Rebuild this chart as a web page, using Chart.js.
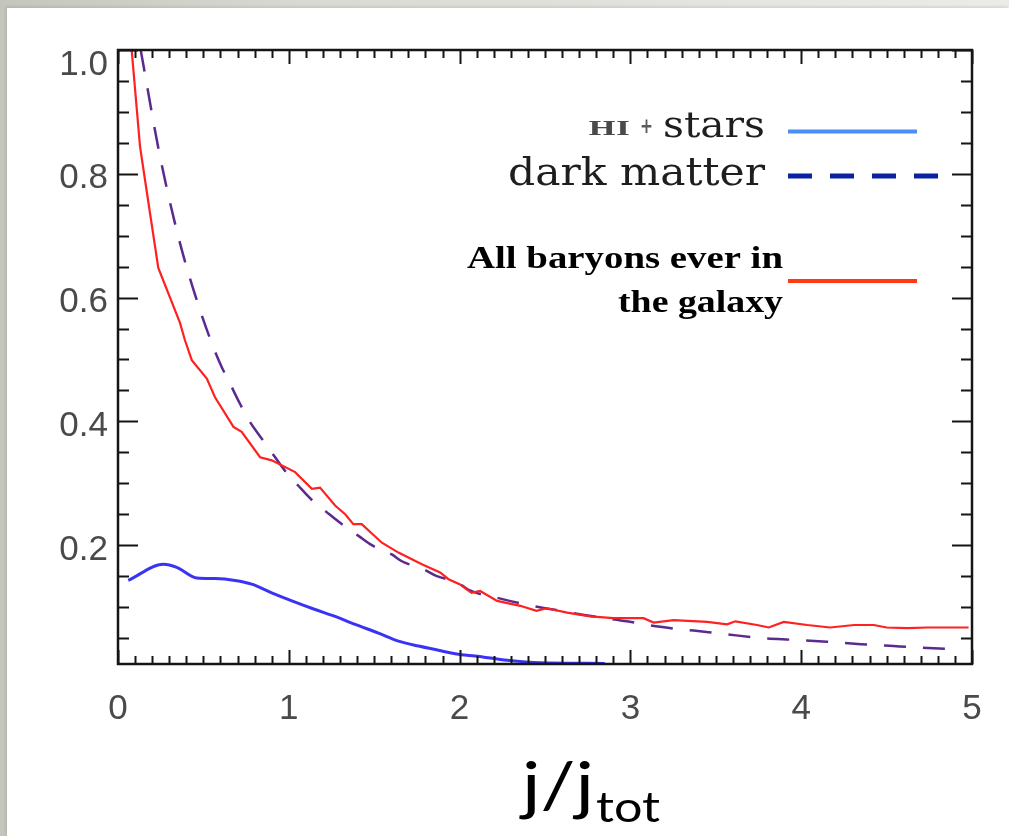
<!DOCTYPE html>
<html>
<head>
<meta charset="utf-8">
<script src="https://cdn.jsdelivr.net/npm/chart.js@4.4.1/dist/chart.umd.min.js"></script>
<style>
  html, body { margin: 0; padding: 0; width: 1009px; height: 836px; overflow: hidden; }
  body { background: linear-gradient(to right, #c4c5bc 0px, #d9d9d3 300px, #ebebe8 1009px); position: relative; }
  #panel { position: absolute; left: 7px; top: 8px; right: 0; bottom: 0; background: #ffffff;
           box-shadow: -1px -1px 3px rgba(0,0,0,0.12); }
  #c { position: absolute; left: 0; top: 0; }
</style>
</head>
<body>
<div id="panel"></div>
<canvas id="c" width="1009" height="836"></canvas>
<script>
// ---- data ----
const baryonX = [0.08,0.129,0.187,0.236,0.363,0.392,0.432,0.52,0.568,0.676,0.724,0.832,0.90,1.037,1.135,1.183,1.271,1.33,1.378,1.427,1.545,1.642,1.779,1.886,1.935,2.0,2.07,2.12,2.22,2.355,2.45,2.51,2.63,2.765,2.9,3.077,3.136,3.253,3.449,3.566,3.615,3.741,3.81,3.898,4.035,4.17,4.31,4.425,4.5,4.62,4.74,4.874,4.98];
const baryonY = [1.0,0.844,0.737,0.648,0.559,0.531,0.499,0.469,0.439,0.391,0.383,0.342,0.337,0.318,0.291,0.293,0.264,0.25,0.234,0.234,0.204,0.188,0.169,0.156,0.145,0.137,0.123,0.126,0.11,0.102,0.094,0.098,0.091,0.085,0.082,0.082,0.075,0.079,0.076,0.072,0.077,0.071,0.067,0.076,0.071,0.067,0.071,0.071,0.067,0.066,0.067,0.067,0.067];

const darkX = [0.133,0.246,0.363,0.48,0.558,0.607,0.656,0.715,0.773,0.842,0.92,0.978,1.056,1.135,1.223,1.31,1.408,1.486,1.603,1.662,1.789,1.867,1.994,2.05,2.22,2.39,2.59,2.78,2.98,3.175,3.37,3.566,3.76,3.956,4.15,4.35,4.54,4.74,4.9];
const darkY = [1.0,0.828,0.688,0.58,0.52,0.488,0.461,0.428,0.399,0.372,0.342,0.32,0.296,0.273,0.253,0.234,0.215,0.2,0.185,0.174,0.161,0.15,0.139,0.128,0.115,0.104,0.094,0.085,0.077,0.068,0.062,0.056,0.05,0.047,0.044,0.04,0.037,0.034,0.032];

const gasX = [0.06,0.266,0.344,0.461,0.568,0.685,0.783,0.9,1.018,1.154,1.271,1.388,1.525,1.642,1.76,1.896,2.01,2.09,2.28,2.47,2.85];
const gasY = [0.143,0.169,0.164,0.147,0.146,0.143,0.137,0.123,0.11,0.096,0.085,0.072,0.058,0.045,0.037,0.029,0.023,0.021,0.014,0.01,0.009];

const xTickValues = [0,1,2,3,4,5];
const xTickLabels = ['0','1','2','3','4','5'];
const yTickValues = [0.2,0.4,0.6,0.8,1.0];
const yTickLabels = ['0.2','0.4','0.6','0.8','1.0'];

const legendLabels = { hi: 'HI', plus: '+', stars: 'stars', dark: 'dark matter', bary1: 'All baryons ever in', bary2: 'the galaxy' };
const axisTitleMain = 'j/j';
const axisTitleSub = 'tot';

const toPts = (xs, ys) => xs.map((v, i) => ({ x: v, y: ys[i] }));

function drawFit(ctx, text, x, y, font, color, width, align) {
  ctx.save();
  ctx.font = font;
  ctx.fillStyle = color;
  ctx.textBaseline = 'alphabetic';
  ctx.textAlign = 'left';
  const w = ctx.measureText(text).width;
  const sx = width / w;
  const left = align === 'right' ? x - width : x;
  ctx.translate(left, y);
  ctx.scale(sx, 1);
  ctx.fillText(text, 0, 0);
  ctx.restore();
}

const framePlugin = {
  id: 'frame',
  afterDatasetsDraw(chart) {
    const { ctx, chartArea: { left, right, top, bottom }, scales: { x, y } } = chart;
    ctx.save();
    ctx.strokeStyle = '#151515';
    ctx.lineWidth = 2;
    ctx.lineCap = 'butt';
    // x ticks (bottom and top, pointing inward)
    for (let i = 0; i <= 50; i++) {
      const px = Math.round(x.getPixelForValue(i / 10)) + 0.5;
      const len = (i % 10 === 0) ? 14 : 8;
      ctx.beginPath();
      ctx.moveTo(px, bottom); ctx.lineTo(px, bottom - len);
      ctx.moveTo(px, top); ctx.lineTo(px, top + len);
      ctx.stroke();
    }
    // y ticks (left and right, pointing inward)
    for (let i = 1; i <= 20; i++) {
      const v = i * 0.05;
      const py = Math.round(y.getPixelForValue(v)) + 0.5;
      const len = (i % 4 === 0) ? 20 : 11;
      ctx.beginPath();
      ctx.moveTo(left, py); ctx.lineTo(left + len, py);
      ctx.moveTo(right, py); ctx.lineTo(right - len, py);
      ctx.stroke();
    }
    ctx.lineWidth = 2.5;
    ctx.strokeRect(left, top, right - left, bottom - top);

    // tick labels
    ctx.fillStyle = '#4a4a4a';
    ctx.font = '35px "Liberation Sans", Arial, sans-serif';
    ctx.textAlign = 'center';
    ctx.textBaseline = 'middle';
    xTickValues.forEach((v, i) => {
      ctx.fillText(xTickLabels[i], x.getPixelForValue(v), 709);
    });
    ctx.textAlign = 'right';
    yTickValues.forEach((v, i) => {
      const py = Math.max(y.getPixelForValue(v) + 5, top + 15);
      ctx.fillText(yTickLabels[i], 108, py);
    });
    ctx.restore();
  },
  afterDraw(chart) {
    const ctx = chart.ctx;
    // legend texts
    drawFit(ctx, legendLabels.hi, 630, 135, 'bold 18px "DejaVu Serif"', '#4a4a4a', 42, 'right');
    drawFit(ctx, legendLabels.plus, 640, 133, 'bold 22px "DejaVu Sans"', '#5a5a5a', 13, 'left');
    drawFit(ctx, legendLabels.stars, 765, 137, '35px "DejaVu Serif"', '#1e1e1e', 102, 'right');
    drawFit(ctx, legendLabels.dark, 765, 185, '39px "DejaVu Serif"', '#1e1e1e', 257, 'right');
    drawFit(ctx, legendLabels.bary1, 783, 268, 'bold 32px "Liberation Serif"', '#000000', 316, 'right');
    drawFit(ctx, legendLabels.bary2, 783, 312, 'bold 32px "Liberation Serif"', '#000000', 165, 'right');
    // legend samples
    ctx.save();
    ctx.lineWidth = 4;
    ctx.strokeStyle = '#4b8ef8';
    ctx.beginPath(); ctx.moveTo(788, 131.5); ctx.lineTo(917, 131.5); ctx.stroke();
    ctx.strokeStyle = '#0b22a3';
    ctx.lineWidth = 5;
    ctx.setLineDash([24, 18]);
    ctx.beginPath(); ctx.moveTo(788, 176); ctx.lineTo(948, 176); ctx.stroke();
    ctx.setLineDash([]);
    ctx.lineWidth = 4;
    ctx.strokeStyle = '#ff3a14';
    ctx.beginPath(); ctx.moveTo(788, 281); ctx.lineTo(917, 281); ctx.stroke();
    ctx.restore();
    // x axis title
    drawFit(ctx, axisTitleMain, 522, 808, '64px Lato, "Open Sans", sans-serif', '#000000', 72, 'left');
    drawFit(ctx, axisTitleSub, 596, 822, '42px Lato, "Open Sans", sans-serif', '#000000', 64, 'left');
  }
};

new Chart(document.getElementById('c'), {
  type: 'line',
  data: {
    datasets: [
      { label: 'All baryons ever in the galaxy', data: toPts(baryonX, baryonY), borderColor: '#ff2020', borderWidth: 2.2, tension: 0, pointRadius: 0, fill: false },
      { label: 'dark matter', data: toPts(darkX, darkY), borderColor: '#5b2a8f', borderWidth: 2.5, borderDash: [22, 17], cubicInterpolationMode: 'monotone', pointRadius: 0, fill: false },
      { label: 'HI + stars', data: toPts(gasX, gasY), borderColor: '#3a33f5', borderWidth: 3, cubicInterpolationMode: 'monotone', pointRadius: 0, fill: false }
    ]
  },
  options: {
    responsive: false,
    animation: false,
    events: [],
    layout: { padding: { left: 0, top: 50, right: 37, bottom: 0 } },
    plugins: { legend: { display: false }, tooltip: { enabled: false } },
    scales: {
      x: {
        type: 'linear', min: 0, max: 5,
        grid: { display: false }, border: { display: false },
        ticks: { display: false },
        afterFit: s => { s.height = 172; }
      },
      y: {
        type: 'linear', min: 0.008, max: 1.0,
        grid: { display: false }, border: { display: false },
        ticks: { display: false },
        afterFit: s => { s.width = 118; }
      }
    }
  },
  plugins: [framePlugin]
});
</script>
</body>
</html>
